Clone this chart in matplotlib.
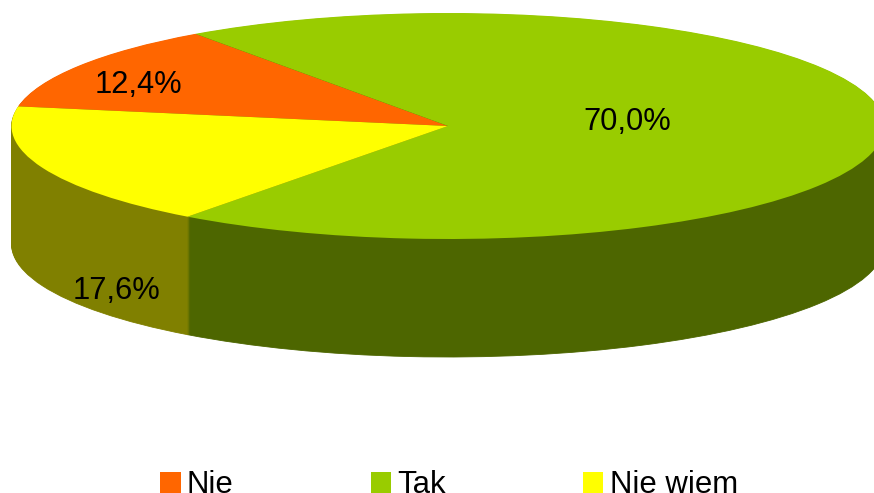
import matplotlib
matplotlib.use('Agg')
import matplotlib.pyplot as plt
from matplotlib.patches import Patch

# Slices, in drawing order (clockwise from the left edge)
labels = ['Nie', 'Tak', 'Nie wiem']
values = [12.4, 70.0, 17.6]
value_labels = ['12,4%', '70,0%', '17,6%']
top_colors = ['#ff6600', '#99cc00', '#ffff00']
side_colors = ['#803300', '#4d6600', '#808000']

plt.rcParams['font.family'] = ['Liberation Sans', 'DejaVu Sans']

W, H = 874, 493
cx, cy = 448, 126     # centre of the top ellipse, px
rx, ry = 436.5, 113   # semi axes, px
depth = 118           # thickness of the pie, px
start = 170

fig = plt.figure(figsize=(W / 100, H / 100), dpi=100, facecolor='white')
ax = fig.add_axes([0, 0, 1, 1])

# Side wall: stack of squashed pies, one per pixel of depth
for d in range(depth, 0, -1):
    wedges, _ = ax.pie(values, colors=side_colors, startangle=start, counterclock=False,
                       center=(0, -d / ry), radius=1)
    for w, c in zip(wedges, side_colors):
        w.set_edgecolor(c)
        w.set_linewidth(0.6)
ax.pie(values, colors=top_colors, startangle=start, counterclock=False,
       center=(0, 0), radius=1, wedgeprops={'linewidth': 0})

# pie forces an equal aspect, undo it to keep the ellipse
ax.set_aspect('auto')
ax.set_xlim(-cx / rx, (W - cx) / rx)
ax.set_ylim((cy - H) / ry, cy / ry)
ax.axis('off')

text_pos = [(138.5, 85), (627.5, 122), (116.5, 291)]
for s, (px, py) in zip(value_labels, text_pos):
    ax.text((px - cx) / rx, (cy - py) / ry, s, fontsize=22.2, color='black',
            ha='center', va='center')

handles = [Patch(facecolor=c, edgecolor='none') for c in top_colors]
fig.legend(handles, labels, ncol=3, loc='center', bbox_to_anchor=(449 / W, 1 - 485 / H),
           frameon=False, fontsize=22.4, handlelength=0.66, handleheight=0.66,
           handletextpad=0.2, columnspacing=4.4, borderpad=0, borderaxespad=0)

fig.savefig('out.png', dpi=100, facecolor='white')
